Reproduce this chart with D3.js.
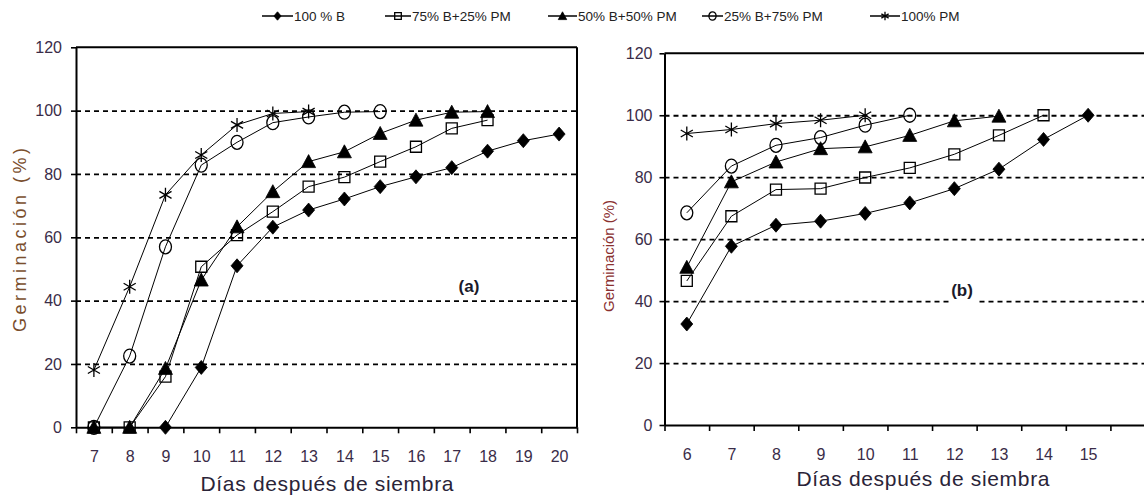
<!DOCTYPE html>
<html>
<head>
<meta charset="utf-8">
<script src="https://cdn.jsdelivr.net/npm/d3@7"></script>
<style>
  body { margin: 0; background: #fff; }
  svg { display: block; font-family: "Liberation Sans", Arial, sans-serif; }
</style>
</head>
<body>
<div id="chart"></div>
<script>
// ---- data ----
const seriesNames = ['100 % B', '75% B+25% PM', '50% B+50% PM', '25% B+75%  PM', '100% PM'];
const seriesShapes = ['diamond', 'square', 'triangle', 'circle', 'asterisk'];

// panel (a)
const daysA = [7, 8, 9, 10, 11, 12, 13, 14, 15, 16, 17, 18, 19, 20];
const b100A = { start: 9, values: [0, 18.9, 51, 63.2, 68.6, 72.1, 76, 79.1, 82, 87.2, 90.5, 92.6] };
const b75A  = { start: 7, values: [0, 0, 16, 50.7, 60.7, 68.1, 76, 79, 83.9, 88.6, 94.4, 97] };
const b50A  = { start: 7, values: [0, 0, 18.6, 46.5, 63.3, 74.4, 83.9, 87, 92.8, 97, 99.5, 99.7] };
const b25A  = { start: 7, values: [0, 22.5, 57, 82.8, 90, 96.2, 98, 99.5, 99.7] };
const pmA   = { start: 7, values: [18.1, 44.4, 73.4, 86, 95.5, 99.1, 99.7] };

// panel (b)
const daysB = [6, 7, 8, 9, 10, 11, 12, 13, 14, 15, 16];
const b100B = { start: 6, values: [32.6, 57.7, 64.5, 65.8, 68.3, 71.7, 76.3, 82.6, 92.2, 100] };
const b75B  = { start: 6, values: [46.5, 67.4, 76, 76.3, 79.9, 83, 87.4, 93.5, 100] };
const b50B  = { start: 6, values: [50.9, 78.5, 84.9, 89.2, 89.8, 93.5, 98.2, 99.7] };
const b25B  = { start: 6, values: [68.5, 83.6, 90.3, 92.8, 96.8, 100] };
const pmB   = { start: 6, values: [94.1, 95.4, 97.3, 98.4, 100] };

const yTicks = [0, 20, 40, 60, 80, 100, 120];
const gridTicks = [20, 40, 60, 80, 100];

// ---- drawing ----
const W = 1144, H = 496;
const svg = d3.select('#chart').append('svg').attr('width', W).attr('height', H);

function shapePath(type, s) {
  switch (type) {
    case 'diamond':  return `M0,${-7*s}L${6*s},0L0,${7*s}L${-6*s},0Z`;
    case 'square':   return `M${-5.5*s},${-5.5*s}h${11*s}v${11*s}h${-11*s}Z`;
    case 'triangle': return `M0,${-7*s}L${7*s},${6*s}L${-7*s},${6*s}Z`;
    case 'circle':   return `M${-6*s},0a${6*s},${7*s} 0 1,0 ${12*s},0a${6*s},${7*s} 0 1,0 ${-12*s},0Z`;
    case 'asterisk': {
      const a = 7*s, cx = 6.06*s, cy = 3.5*s;
      return `M0,${-a}L0,${a}M${-cx},${-cy}L${cx},${cy}M${-cx},${cy}L${cx},${-cy}`;
    }
  }
}
function styleMarker(sel, type) {
  const filled = type === 'diamond' || type === 'triangle';
  sel.attr('fill', filled ? '#000' : 'none')
    .attr('stroke', '#000')
    .attr('stroke-width', type === 'asterisk' ? 1.3 : (filled ? 0.8 : 1.3));
}

function panel(cfg) {
  const { x, y, days, series, tag, tagPos, yTitle } = cfg;
  const g = svg.append('g');
  const [x0, x1] = x.range();
  const [y0, y1] = y.range();

  // dashed grid
  g.append('g').attr('transform', `translate(${x0},0)`)
    .call(d3.axisLeft(y).tickValues(gridTicks).tickSize(-(x1 - x0)).tickFormat(''))
    .call(a => a.select('.domain').remove())
    .selectAll('line').attr('stroke', '#000').attr('stroke-width', 1.8).attr('stroke-dasharray', '5,4');

  // frame top / right
  g.append('line').attr('x1', x0).attr('x2', x1).attr('y1', y1).attr('y2', y1)
    .attr('stroke', '#000').attr('stroke-width', 2);
  g.append('line').attr('x1', x1).attr('x2', x1).attr('y1', y1).attr('y2', y0)
    .attr('stroke', '#000').attr('stroke-width', 2);

  // panel tag with white gap over the grid line
  g.append('rect').attr('x', tagPos.gx0).attr('width', tagPos.gx1 - tagPos.gx0)
    .attr('y', tagPos.y - 14).attr('height', 28).attr('fill', '#fff');
  g.append('text').attr('x', tagPos.x).attr('y', tagPos.y + 6).attr('text-anchor', 'middle')
    .attr('font-size', 17).attr('font-weight', 'bold').attr('fill', '#1a1a2a').text(tag);

  // y axis
  g.append('g').attr('transform', `translate(${x0},0)`)
    .call(d3.axisLeft(y).tickValues(yTicks).tickSizeInner(5).tickSizeOuter(0).tickPadding(cfg.yPad))
    .call(a => a.select('.domain').attr('stroke-width', 2))
    .call(a => a.selectAll('line').attr('stroke-width', 1.6))
    .selectAll('text').attr('font-size', 16).attr('fill', '#3a2c48');

  // x axis: ticks between categories, labels at centres
  const bounds = d3.range(days[0] - 0.5, days[days.length - 1] + 1, 1);
  g.append('g').attr('transform', `translate(0,${y0})`)
    .call(d3.axisBottom(x).tickValues(bounds).tickFormat('').tickSizeInner(6).tickSizeOuter(0))
    .call(a => a.select('.domain').attr('stroke-width', 2))
    .selectAll('line').attr('stroke-width', 1.6);
  g.append('g').attr('transform', `translate(0,${y0})`)
    .call(d3.axisBottom(x).tickValues(days.filter(d => d <= cfg.lastLabel)).tickFormat(d3.format('d')).tickSize(0).tickPadding(23.5))
    .call(a => a.select('.domain').remove())
    .selectAll('text').attr('font-size', 16).attr('fill', '#3a2c48');

  // titles
  g.append('text').attr('transform', `translate(${yTitle.x},${yTitle.y}) rotate(-90)`)
    .attr('text-anchor', 'middle').attr('font-size', yTitle.size).attr('fill', yTitle.color)
    .attr('textLength', yTitle.len).attr('lengthAdjust', 'spacing')
    .text('Germinación (%)');
  g.append('text').attr('x', cfg.xTitle.x).attr('y', cfg.xTitle.y).attr('text-anchor', 'middle')
    .attr('font-size', 21).attr('fill', '#2a2438')
    .attr('textLength', 253).attr('lengthAdjust', 'spacing')
    .text('Días después de siembra');

  // series
  const line = d3.line().x(d => x(d[0])).y(d => y(d[1]));
  series.forEach((s, i) => {
    const pts = s.values.map((v, k) => [s.start + k, v]);
    g.append('path').datum(pts).attr('d', line)
      .attr('fill', 'none').attr('stroke', '#000').attr('stroke-width', 1);
    g.append('g').selectAll('path').data(pts).join('path')
      .attr('transform', d => `translate(${x(d[0])},${y(d[1])})`)
      .attr('d', shapePath(seriesShapes[i], 1))
      .call(styleMarker, seriesShapes[i]);
  });
}

panel({
  x: d3.scaleLinear().domain([6.5, 20.5]).range([76, 577]),
  y: d3.scaleLinear().domain([0, 120]).range([427.3, 47.3]),
  days: daysA, lastLabel: 20,
  series: [b100A, b75A, b50A, b25A, pmA],
  tag: '(a)', tagPos: { x: 469, y: 286, gx0: 447, gx1: 497 },
  yPad: 9,
  yTitle: { x: 26, y: 240, size: 18, len: 184, color: '#7a4e2d' },
  xTitle: { x: 327, y: 491 }
});

panel({
  x: d3.scaleLinear().domain([5.5, 16.5]).range([664.5, 1155]),
  y: d3.scaleLinear().domain([0, 120]).range([425, 53.3]),
  days: daysB, lastLabel: 15,
  series: [b100B, b75B, b50B, b25B, pmB],
  tag: '(b)', tagPos: { x: 962, y: 290, gx0: 949, gx1: 977 },
  yPad: 7,
  yTitle: { x: 614, y: 256, size: 15, len: 112, color: '#8a3030' },
  xTitle: { x: 923, y: 486 }
});

// legend
const legendX = [[262, 293], [385, 411], [548, 577], [702, 723], [870, 900]];
const leg = svg.append('g').attr('transform', 'translate(0,16)');
seriesNames.forEach((name, i) => {
  const [a, b] = legendX[i];
  leg.append('line').attr('x1', a).attr('x2', b).attr('stroke', '#000').attr('stroke-width', 1.5);
  leg.append('path').attr('transform', `translate(${(a + b) / 2},0)`)
    .attr('d', shapePath(seriesShapes[i], 0.6)).call(styleMarker, seriesShapes[i]);
  leg.append('text').attr('x', b + 1).attr('y', 5).attr('font-size', 13.5).attr('fill', '#222')
    .text(name);
});
</script>
</body>
</html>
